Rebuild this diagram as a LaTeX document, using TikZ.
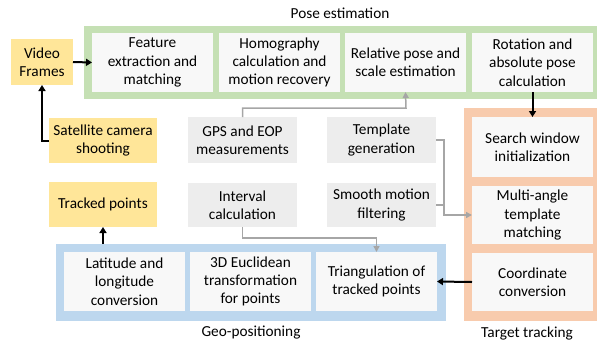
\documentclass[tikz,border=0pt]{standalone}
\usepackage{fontspec}
\setmainfont{Carlito}
\usetikzlibrary{arrows.meta,calc}
\definecolor{pgreen}{HTML}{C5E0B4}
\definecolor{porange}{HTML}{F8CBAD}
\definecolor{pblue}{HTML}{BDD7EE}
\definecolor{pyellow}{HTML}{FFE699}
\definecolor{pgray}{HTML}{EDEDED}
\definecolor{pinner}{HTML}{F8F8F8}
\definecolor{pline}{HTML}{A6A6A6}
\begin{document}
\begin{tikzpicture}[x=1pt,y=-1pt,
  every node/.style={font=\fontsize{15.3}{18.3}\selectfont, inner sep=0pt, outer sep=0pt},
  inbox/.style={fill=pinner, minimum width=121pt, minimum height=59pt, align=center},
  ybox/.style={fill=pyellow, align=center},
  gbox/.style={fill=pgray, minimum width=109pt, align=center},
  blk/.style={line width=2pt, -{Triangle[length=6pt,width=7pt]}},
  gry/.style={line width=1.5pt, draw=pline, -{Triangle[length=6pt,width=6pt]}},
  gryl/.style={line width=1.5pt, draw=pline}
]
\useasboundingbox (0,0) rectangle (597,343);
% panels
\fill[pgreen] (84,26) rectangle (597,99);
\fill[porange] (464,108) rectangle (597,321);
\fill[pblue] (56,244) rectangle (446,321);
\coordinate (blueN) at (103,244);
% labels
\node (lpose) at (340,13) {Pose estimation};
\node (lgeo) at (251,333) {Geo-positioning};
\node (ltrack) at (527,333) {Target tracking};
% pose boxes
\node[inbox] (feat) at (152.5,62.5) {Feature\\extraction and\\matching};
\node[inbox] (homo) at (279.5,62.5) {Homography\\calculation and\\motion recovery};
\node[inbox] (rel) at (405.5,62.5) {Relative pose and\\scale estimation};
\node[inbox] (rot) at (532.5,62.5) {Rotation and\\absolute pose\\calculation};
% tracking boxes
\node[inbox, minimum height=60pt] (search) at (532.5,147) {Search window\\initialization};
\node[inbox, minimum height=58pt] (multi) at (532.5,215) {Multi-angle\\template\\matching};
\node[inbox, minimum height=58pt] (coord) at (532.5,282) {Coordinate\\conversion};
% geo boxes
\node[inbox] (lat) at (124.5,281.5) {Latitude and\\longitude\\conversion};
\node[inbox] (euc) at (250.5,281.5) {3D Euclidean\\transformation\\for points};
\node[inbox] (tri) at (376.5,281.5) {Triangulation of\\tracked points};
% yellow
\node[ybox, minimum width=62pt, minimum height=46pt] (video) at (42,62) {Video\\Frames};
\node[ybox, minimum width=108pt, minimum height=45pt] (sat) at (103,140.5) {Satellite camera\\shooting};
\node[ybox, minimum width=108pt, minimum height=45pt] (trk) at (103,204.5) {Tracked points};
% gray
\node[gbox, minimum height=46pt] (gps) at (242.5,140) {GPS and EOP\\measurements};
\node[gbox, minimum height=46pt] (tmpl) at (381.5,140) {Template\\generation};
\node[gbox, minimum height=44pt] (intv) at (242.5,205) {Interval\\calculation};
\node[gbox, minimum height=44pt] (smooth) at (381.5,205) {Smooth motion\\filtering};
% black connectors
\draw[blk] (video.east) -- (feat.west);
\draw[blk] (sat.west) -| (video.south);
\draw[blk] (rot.south) -- (search.north);
\draw[blk] (coord.west) -- (tri.east);
\draw[blk] (blueN) -- (trk.south);
% gray connectors
\draw[gry] (gps.north) |- (406,108) -- (rel.south);
\draw[gry] (tmpl.east) -| (444,215) -- (multi.west);
\draw[gryl] (smooth.east) -- (444,205);
\draw[gry] (intv.south) |- (376.5,238) -- (tri.north);
\end{tikzpicture}
\end{document}
